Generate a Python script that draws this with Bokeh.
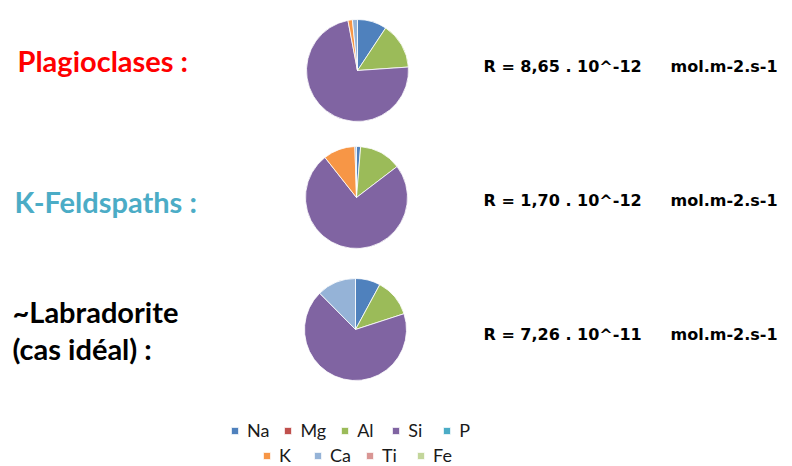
import math
from bokeh.plotting import figure
from bokeh.models import Range1d, ColumnDataSource, Legend, LegendItem
from bokeh.core.properties import value
from bokeh.embed import file_html
from bokeh.resources import INLINE

# ---------------- data ----------------
elements = ["Na", "Mg", "Al", "Si", "P", "K", "Ca", "Ti", "Fe"]
colors = ["#4F81BD", "#C0504D", "#9BBB59", "#8064A2", "#4BACC6",
          "#F79646", "#95B3D7", "#D99694", "#C3D69B"]

minerals = ["Plagioclases :", "K-Feldspaths :", "~Labradorite\n(cas idéal) :"]
mineral_colors = ["#FF0000", "#4BACC6", "#000000"]

plagioclases = [9.3, 0, 14.6, 73.0, 0, 1.4, 1.6, 0, 0]
k_feldspaths = [1.3, 0, 13.3, 74.6, 0, 10.1, 0.5, 0, 0]
labradorite = [7.9, 0, 12.1, 67.6, 0, 0, 12.4, 0, 0]
compositions = [plagioclases, k_feldspaths, labradorite]

rates = ["R = 8,65 . 10^-12", "R = 1,70 . 10^-12", "R = 7,26 . 10^-11"]
rate_unit = "mol.m-2.s-1"

# ---------------- layout ----------------
W, H = 792, 466


def Y(iy):
    return H - iy


pie_cx = [357, 356, 355]
pie_cy = [70, 197, 329]
pie_r = 51

p = figure(width=W, height=H, output_backend="svg", toolbar_location=None,
           x_range=Range1d(0, W), y_range=Range1d(0, H),
           min_border=0, outline_line_color=None)
p.xaxis.visible = False
p.yaxis.visible = False
p.grid.visible = False
p.background_fill_color = "white"
p.border_fill_color = "white"

# wedges: one renderer per element (zero slices get zero radius)
renderers = []
for ei, el in enumerate(elements):
    xs, ys, st, en, rr = [], [], [], [], []
    for pi_, comp in enumerate(compositions):
        total = sum(comp)
        cum0 = sum(comp[:ei])
        cum1 = cum0 + comp[ei]
        xs.append(pie_cx[pi_])
        ys.append(Y(pie_cy[pi_]))
        st.append(math.pi / 2 - 2 * math.pi * cum1 / total)
        en.append(math.pi / 2 - 2 * math.pi * cum0 / total + (0 if comp[ei] > 0 else -1e-9))
        rr.append(pie_r if comp[ei] > 0 else 0)
    src = ColumnDataSource(dict(x=xs, y=ys, start=st, end=en, r=rr))
    r = p.wedge(x="x", y="y", radius="r", start_angle="start", end_angle="end",
                direction="anticlock", fill_color=colors[ei], line_color="white",
                line_width=0.8, source=src)
    renderers.append(r)

# mineral labels (baseline correction for svg text placement)
title_size = 29
title_shift = 12
label_x = [17, 14, 12]
label_base = [72, 213, 323]
line_gap = 37
tx, ty, tt, tc = [], [], [], []
for i, name in enumerate(minerals):
    for j, line in enumerate(name.split("\n")):
        tx.append(label_x[i])
        ty.append(Y(label_base[i] + j * line_gap - title_shift))
        tt.append(line)
        tc.append(mineral_colors[i])
p.text(x="x", y="y", text="t", text_color="c",
       source=ColumnDataSource(dict(x=tx, y=ty, t=tt, c=tc)),
       text_font=value("Lato"), text_font_style="bold",
       text_font_size=f"{title_size}px",
       text_baseline="alphabetic", text_align="left")

# rates
rate_size = 16
rate_shift = 6
rate_base = [72, 206, 340]
p.text(x=[483] * 3, y=[Y(b - rate_shift) for b in rate_base], text=rates,
       text_font=value("DejaVu Sans"), text_font_style="bold",
       text_font_size=f"{rate_size}px",
       text_baseline="alphabetic", text_align="left", text_color="black")
p.text(x=[670] * 3, y=[Y(b - rate_shift) for b in rate_base], text=[rate_unit] * 3,
       text_font=value("DejaVu Sans"), text_font_style="bold",
       text_font_size=f"{rate_size}px",
       text_baseline="alphabetic", text_align="left", text_color="black")

# legend in two centred rows
common = dict(orientation="horizontal", padding=0, margin=0, spacing=14,
              border_line_color=None, background_fill_alpha=0,
              glyph_width=9, glyph_height=9, label_standoff=8,
              label_text_font="Lato", label_text_font_size="18px",
              label_height=20, label_text_color="#1a1a1a")
row1 = [LegendItem(label=elements[i], renderers=[renderers[i]], index=0) for i in range(5)]
row2 = [LegendItem(label=elements[i], renderers=[renderers[i]], index=0) for i in range(5, 9)]
leg1 = Legend(items=row1, location=(230, 25), **common)
leg2 = Legend(items=row2, location=(262, 0), **common)
p.add_layout(leg1)
p.add_layout(leg2)

open("out.html", "w").write(file_html(p, INLINE))
